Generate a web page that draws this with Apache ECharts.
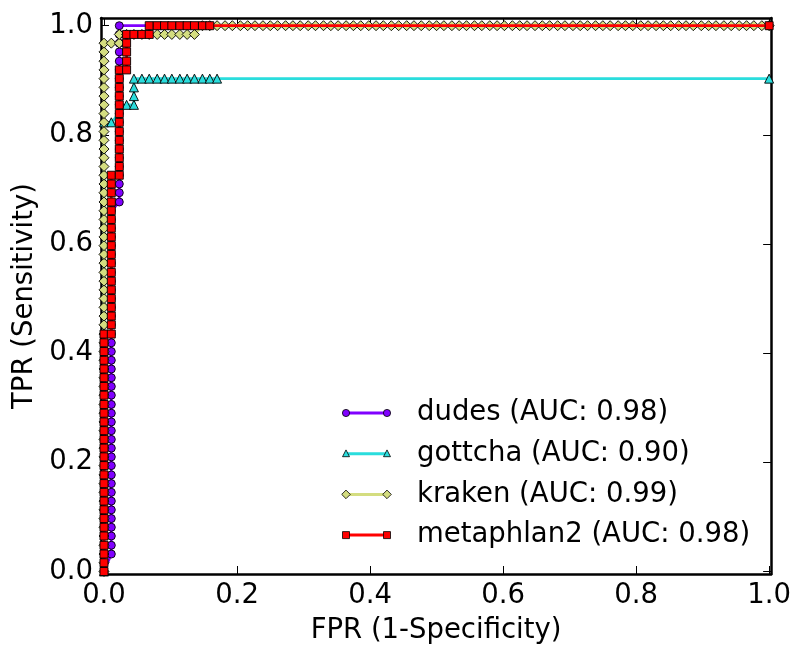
<!DOCTYPE html>
<html><head><meta charset="utf-8">
<script src="https://cdn.jsdelivr.net/npm/echarts@6/dist/echarts.min.js"></script>
<style>html,body{margin:0;padding:0;background:#fff}#c{width:794px;height:650px}</style>
</head><body><div id="c"></div>
<script>
const seriesNames = ['dudes (AUC: 0.98)', 'gottcha (AUC: 0.90)', 'kraken (AUC: 0.99)', 'metaphlan2 (AUC: 0.98)'];
const seriesColors = ['#8000ff', '#2adddd', '#d4dd80', '#ff0000'];
const xTicks = [0.0, 0.2, 0.4, 0.6, 0.8, 1.0];
const yTicks = [0.0, 0.2, 0.4, 0.6, 0.8, 1.0];

const dudesFPR = [0,
  0.011,0.011,0.011,0.011,0.011,0.011,0.011,0.011,0.011,0.011,
  0.011,0.011,0.011,0.011,0.011,0.011,0.011,0.011,0.011,0.011,
  0.011,0.011,0.011,0.011,0.011,0.011,0.011,0.011,0.011,0.011,
  0.011,0.011,0.011,0.011,0.011,0.011,0.011,0.011,0.011,0.011,
  0.023,0.023,0.023,0.023,0.023,0.023,0.023,0.023,0.023,0.023,
  0.023,0.023,0.023,0.023,0.023,0.023,0.023,0.023,0.023,0.023,0.023,
  1.0];
const dudesTPR = [0,
  0.032,0.048,0.065,0.081,0.097,0.113,0.129,0.145,0.161,0.177,
  0.194,0.210,0.226,0.242,0.258,0.274,0.290,0.306,0.323,0.339,
  0.355,0.371,0.387,0.403,0.419,0.435,0.452,0.468,0.484,0.500,
  0.516,0.532,0.548,0.565,0.581,0.597,0.613,0.629,0.645,0.661,
  0.677,0.694,0.710,0.726,0.742,0.758,0.774,0.790,0.806,0.823,
  0.839,0.855,0.871,0.887,0.903,0.919,0.935,0.952,0.968,0.984,1.000,
  1.0];

const gottchaFPR = [0, 0, 0.011, 0.034, 0.045, 0.045, 0.045, 0.045,
  0.057, 0.068, 0.080, 0.091, 0.102, 0.114, 0.125, 0.136, 0.148, 0.159, 0.170,
  1.0];
const gottchaTPR = [0, 0.823, 0.823, 0.855, 0.855, 0.871, 0.887, 0.903,
  0.903, 0.903, 0.903, 0.903, 0.903, 0.903, 0.903, 0.903, 0.903, 0.903, 0.903,
  0.903];

const krakenFPR = [
  0,0,0,0,0,0,0,0,0,0, 0,0,0,0,0,0,0,0,0,0, 0,0,0,0,0,0,0,0,0,0,
  0,0,0,0,0,0,0,0,0,0, 0,0,0,0,0,0,0,0,0,0, 0,0,0,0,0,0,0,0,0,0, 0,
  0.011, 0.023,
  0.023, 0.034, 0.045, 0.057, 0.068, 0.080, 0.091, 0.102, 0.114, 0.125, 0.136,
  0.148, 0.159, 0.170, 0.182, 0.193, 0.205, 0.216, 0.227, 0.239, 0.250,
  0.261, 0.273, 0.284, 0.295, 0.307, 0.318, 0.330, 0.341, 0.352, 0.364,
  0.375, 0.386, 0.398, 0.409, 0.420, 0.432, 0.443, 0.455, 0.466, 0.477,
  0.489, 0.500, 0.511, 0.523, 0.534, 0.545, 0.557, 0.568, 0.580, 0.591,
  0.602, 0.614, 0.625, 0.636, 0.648, 0.659, 0.670, 0.682, 0.693, 0.705,
  0.716, 0.727, 0.739, 0.750, 0.761, 0.773, 0.784, 0.795, 0.807, 0.818,
  0.830, 0.841, 0.852, 0.864, 0.875, 0.886, 0.898, 0.909, 0.920, 0.932,
  0.943, 0.955, 0.966, 0.977, 0.989, 1.000];
const krakenTPR = [
  0.000,0.016,0.032,0.048,0.065,0.081,0.097,0.113,0.129,0.145,
  0.161,0.177,0.194,0.210,0.226,0.242,0.258,0.274,0.290,0.306,
  0.323,0.339,0.355,0.371,0.387,0.403,0.419,0.435,0.452,0.468,
  0.484,0.500,0.516,0.532,0.548,0.565,0.581,0.597,0.613,0.629,
  0.645,0.661,0.677,0.694,0.710,0.726,0.742,0.758,0.774,0.790,
  0.806,0.823,0.839,0.855,0.871,0.887,0.903,0.919,0.935,0.952, 0.968,
  0.968, 0.968,
  0.984,0.984,0.984,0.984,0.984,0.984,0.984,0.984,0.984,0.984,0.984,
  1,1,1,1,1,1,1,1,1,1, 1,1,1,1,1,1,1,1,1,1, 1,1,1,1,1,1,1,1,1,1,
  1,1,1,1,1,1,1,1,1,1, 1,1,1,1,1,1,1,1,1,1, 1,1,1,1,1,1,1,1,1,1,
  1,1,1,1,1,1,1,1,1,1, 1,1,1,1,1,1];

const metaphlanFPR = [
  0,0,0,0,0,0,0,0,0,0, 0,0,0,0,0,0,0,0,0,0, 0,0,0,0,0,0,0,0,
  0.011,0.011,0.011,0.011,0.011,0.011,0.011,0.011,0.011,0.011,
  0.011,0.011,0.011,0.011,0.011,0.011,0.011,0.011,0.011,
  0.023,0.023,0.023,0.023,0.023,0.023,0.023,0.023,0.023,0.023,0.023,0.023,0.023,
  0.034,0.034,0.034,0.034,0.034,
  0.045, 0.057, 0.068,
  0.068, 0.080, 0.091, 0.102, 0.114, 0.125, 0.136, 0.148, 0.159,
  1.0];
const metaphlanTPR = [
  0.000,0.016,0.032,0.048,0.065,0.081,0.097,0.113,0.129,0.145,
  0.161,0.177,0.194,0.210,0.226,0.242,0.258,0.274,0.290,0.306,
  0.323,0.339,0.355,0.371,0.387,0.403,0.419,0.435,
  0.435,0.452,0.468,0.484,0.500,0.516,0.532,0.548,0.565,0.581,
  0.597,0.613,0.629,0.645,0.661,0.677,0.694,0.710,0.726,
  0.726,0.742,0.758,0.774,0.790,0.806,0.823,0.839,0.855,0.871,0.887,0.903,0.919,
  0.919,0.935,0.952,0.968,0.984,
  0.984, 0.984, 0.984,
  1,1,1,1,1,1,1,1,1,
  1.0];

const seriesFPR = [dudesFPR, gottchaFPR, krakenFPR, metaphlanFPR];
const seriesTPR = [dudesTPR, gottchaTPR, krakenTPR, metaphlanTPR];
const seriesSymbols = ['circle', 'triangle', 'diamond', 'rect'];
const seriesSymbolSizes = [8, 9, 10, 8];

const FONT = "'DejaVu Sans', sans-serif";
const FS = 27.5;
const chart = echarts.init(document.getElementById('c'), null, {renderer: 'canvas'});

const fmt = v => v.toFixed(1);
const axisBase = {
  type: 'value',
  splitLine: {show: false},
  axisLine: {show: true, onZero: false, lineStyle: {color: '#000', width: 2.5}},
  axisTick: {show: true, inside: true, length: 8, lineStyle: {color: '#000', width: 1}},
};
const xMin = -0.0045, xMax = 1.003, yMin = -0.0046, yMax = 1.0141;

const series = seriesNames.map((name, i) => ({
  name: name,
  type: 'line',
  z: 2 + i,
  data: seriesFPR[i].map((x, j) => [x, seriesTPR[i][j]]),
  symbol: seriesSymbols[i],
  symbolSize: seriesSymbolSizes[i],
  showAllSymbol: true,
  animation: false,
  lineStyle: {color: seriesColors[i], width: 2.7},
  itemStyle: {color: seriesColors[i], borderColor: '#000', borderWidth: 0.9},
  emphasis: {disabled: true}
}));

// legend drawn as graphic (matplotlib style: line with marker at both ends)
const legendGraphic = [];
const legX0 = 346, legX1 = 387, legTextX = 417, legY0 = 413, legDY = 40.7;
function markerShape(kind, cx, cy, color) {
  const st = {fill: color, stroke: '#000', lineWidth: 0.8};
  if (kind === 'circle') return {type: 'circle', shape: {cx: cx, cy: cy, r: 3.6}, style: st};
  if (kind === 'rect') return {type: 'rect', shape: {x: cx - 3.5, y: cy - 3.5, width: 7, height: 7}, style: st};
  if (kind === 'triangle') return {type: 'polygon', shape: {points: [[cx, cy - 3.8], [cx + 3.5, cy + 3], [cx - 3.5, cy + 3]]}, style: st};
  return {type: 'polygon', shape: {points: [[cx, cy - 4.3], [cx + 4.3, cy], [cx, cy + 4.3], [cx - 4.3, cy]]}, style: st};
}
seriesNames.forEach((name, i) => {
  const y = legY0 + i * legDY;
  legendGraphic.push({type: 'line', shape: {x1: legX0, y1: y, x2: legX1, y2: y}, style: {stroke: seriesColors[i], lineWidth: 3}, z: 10});
  legendGraphic.push(Object.assign(markerShape(seriesSymbols[i], legX0, y, seriesColors[i]), {z: 11}));
  legendGraphic.push(Object.assign(markerShape(seriesSymbols[i], legX1, y, seriesColors[i]), {z: 11}));
  legendGraphic.push({type: 'text', x: legTextX, y: y, style: {text: name, fill: '#000', font: FS + "px 'DejaVu Sans', sans-serif", verticalAlign: 'middle', textAlign: 'left'}, z: 11});
});

chart.setOption({
  backgroundColor: '#fff',
  animation: false,
  grid: {left: 101, right: 20, top: 18, bottom: 75, containLabel: false},
  xAxis: [
    Object.assign({}, axisBase, {
      position: 'bottom', min: xMin, max: xMax,
      name: 'FPR (1-Specificity)', nameLocation: 'middle', nameGap: 43,
      nameTextStyle: {fontSize: FS, fontFamily: FONT, color: '#000'},
      axisTick: Object.assign({}, axisBase.axisTick, {customValues: xTicks}),
      axisLabel: {show: true, customValues: xTicks, formatter: fmt, fontSize: FS, fontFamily: FONT, color: '#000', margin: 8}
    }),
    Object.assign({}, axisBase, {
      position: 'top', min: xMin, max: xMax,
      axisTick: Object.assign({}, axisBase.axisTick, {customValues: xTicks}),
      axisLabel: {show: false, customValues: xTicks}
    })
  ],
  yAxis: [
    Object.assign({}, axisBase, {
      position: 'left', min: yMin, max: yMax,
      name: 'TPR (Sensitivity)', nameLocation: 'middle', nameGap: 61,
      nameTextStyle: {fontSize: FS, fontFamily: FONT, color: '#000'},
      axisTick: Object.assign({}, axisBase.axisTick, {customValues: yTicks}),
      axisLabel: {show: true, customValues: yTicks, formatter: fmt, fontSize: FS, fontFamily: FONT, color: '#000', margin: 8}
    }),
    Object.assign({}, axisBase, {
      position: 'right', min: yMin, max: yMax,
      axisTick: Object.assign({}, axisBase.axisTick, {customValues: yTicks}),
      axisLabel: {show: false, customValues: yTicks}
    })
  ],
  series: series,
  graphic: legendGraphic
});
</script></body></html>
